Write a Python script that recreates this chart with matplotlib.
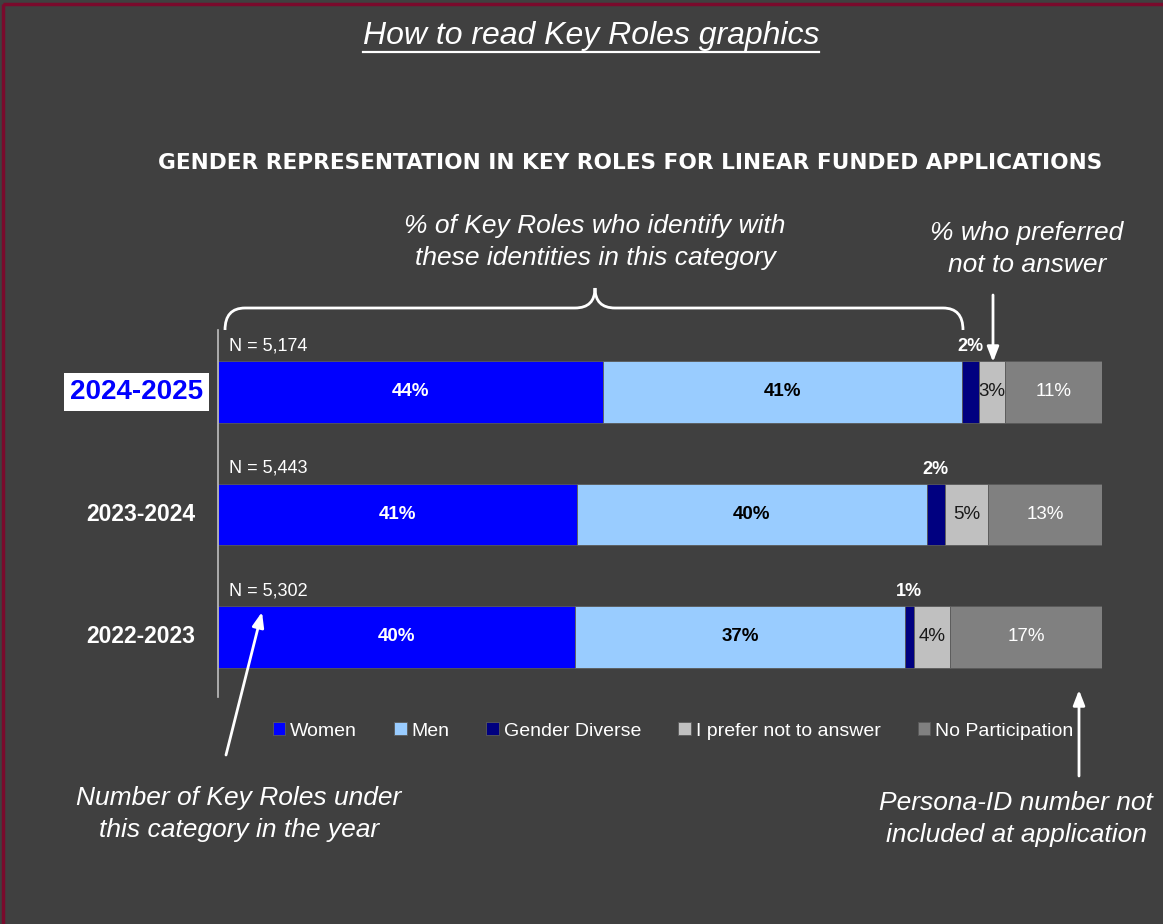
"""
key_roles_gender.py
"""

import numpy as np

import matplotlib.pyplot as plt
from matplotlib.patches import Rectangle, PathPatch
from matplotlib.path import Path
from matplotlib.transforms import blended_transform_factory


# -------------------------
# Data
# -------------------------

years = ["2024-2025", "2023-2024", "2022-2023"]

n_labels = ["N = 5,174", "N = 5,443", "N = 5,302"]

categories = [
    "Women",
    "Men",
    "Gender Diverse",
    "I prefer not to answer",
    "No Participation"
]

women = [43.6, 40.6, 40.4]
men = [40.6, 39.6, 37.3]
gender_diverse = [1.9, 2.0, 1.0]
prefer_not = [2.9, 4.9, 4.1]
no_participation = [11.0, 12.9, 17.2]

shown_labels = [
    ["44%", "41%", "2%", "3%", "11%"],
    ["41%", "40%", "2%", "5%", "13%"],
    ["40%", "37%", "1%", "4%", "17%"],
]

colors = ["#0000FF", "#99CCFF", "#000080", "#C0C0C0", "#808080"]
label_colors = ["white", "black", "white", "#1a1a1a", "white"]
label_weights = ["bold", "bold", "bold", "normal", "normal"]

BG = "#404040"
W, H = 1163, 924

narrow = ["Liberation Sans Narrow", "Liberation Sans", "DejaVu Sans"]
arial = ["Liberation Sans", "DejaVu Sans"]

fig = plt.figure(figsize=(W / 100, H / 100), dpi=100, facecolor=BG)

# overlay in pixel coordinates for the explanatory annotations
over = fig.add_axes([0, 0, 1, 1])
over.set_xlim(0, W)
over.set_ylim(H, 0)
over.axis("off")
over.set_zorder(3)
over.patch.set_alpha(0)

# -------------------------
# Bar chart
# -------------------------

ax = fig.add_axes([218 / W, 1 - 697 / H, 884 / W, 367 / H])
ax.set_facecolor(BG)
ax.set_xlim(0, 100)
ax.set_ylim(2.49, -0.506)

series = [women, men, gender_diverse, prefer_not, no_participation]
y = np.arange(len(years))
left = np.zeros(len(years))
bars = []
for i, vals in enumerate(series):
    b = ax.barh(y, vals, left=left, height=0.5, color=colors[i],
                edgecolor="#5a5a5a", linewidth=0.6, label=categories[i])
    bars.append(b)
    for j, v in enumerate(vals):
        txt = shown_labels[j][i]
        if i == 2:
            # gender diverse label sits above the thin segment
            ax.text(left[j] + v / 2, j - 0.3, txt, ha="center", va="bottom",
                    color="white", fontsize=13, fontweight="bold",
                    family=arial)
        else:
            ax.text(left[j] + v / 2, j, txt, ha="center", va="center",
                    color=label_colors[i], fontsize=13.5,
                    fontweight=label_weights[i], family=arial)
    left = left + np.array(vals)

for j, n in enumerate(n_labels):
    ax.text(1.3, j - 0.31, n, ha="left", va="bottom", color="white",
            fontsize=13, family=narrow)

for s in ["top", "right", "bottom"]:
    ax.spines[s].set_visible(False)
ax.spines["left"].set_color("#bfbfbf")
ax.spines["left"].set_linewidth(1.2)
ax.set_xticks([])
ax.set_yticks([])

# year labels
trans = blended_transform_factory(ax.transAxes, ax.transData)
ax.text(-0.017, 0, years[0], transform=trans, ha="right", va="center",
        color="#0000FF", fontsize=20, fontweight="bold", family=arial,
        bbox=dict(facecolor="white", edgecolor="none", pad=4))
for j in range(1, len(years)):
    ax.text(-0.026, j, years[j], transform=trans, ha="right", va="center",
            color="white", fontsize=16.5, fontweight="bold", family=arial)

fig.legend(handles=bars, labels=categories, loc="center",
           bbox_to_anchor=(673 / W, 1 - 731 / H), ncol=5, frameon=False,
           handlelength=0.65, handleheight=0.65, handletextpad=0.25,
           columnspacing=1.9, labelcolor="white",
           prop={"family": narrow, "size": 14})

# -------------------------
# Titles
# -------------------------

head = over.text(591, 36, "How to read Key Roles graphics", ha="center",
                 va="center", color="white", fontsize=23, style="italic",
                 family=arial)

over.text(630, 163, "GENDER REPRESENTATION IN KEY ROLES FOR LINEAR FUNDED APPLICATIONS",
          ha="center", va="center", color="white", fontsize=15.6,
          fontweight="bold", family=["DejaVu Sans"])

# -------------------------
# Annotations
# -------------------------

ital = dict(color="white", fontsize=19, style="italic", family=arial,
            ha="center", va="center", linespacing=1.42)

over.text(595, 242, "% of Key Roles who identify with\nthese identities in this category", **ital)
over.text(1027, 249, "% who preferred\nnot to answer", **ital)
over.text(239, 814, "Number of Key Roles under\nthis category in the year", **ital)
over.text(1016, 819, "Persona-ID number not\nincluded at application", **ital)

# curly brace over the identity segments
brace = Path(
    [(225, 330), (225, 308), (245, 308), (575, 308), (595, 308), (595, 288),
     (595, 308), (615, 308), (943, 308), (963, 308), (963, 330)],
    [Path.MOVETO, Path.CURVE3, Path.CURVE3, Path.LINETO, Path.CURVE3,
     Path.CURVE3, Path.CURVE3, Path.CURVE3, Path.LINETO, Path.CURVE3,
     Path.CURVE3]
)
over.add_patch(PathPatch(brace, facecolor="none", edgecolor="white",
                         linewidth=2))

arrow = dict(arrowstyle="-|>,head_length=0.9,head_width=0.35", color="white",
             linewidth=2, shrinkA=0, shrinkB=0)
over.annotate("", xy=(993, 362), xytext=(993, 295), arrowprops=arrow)
over.annotate("", xy=(262, 612), xytext=(226, 755), arrowprops=arrow)
over.annotate("", xy=(1079, 690), xytext=(1079, 776), arrowprops=arrow)

# maroon frame
over.add_patch(Rectangle((3, 4), W + 20, H + 20, facecolor="none",
                         edgecolor="#7a0a2c", linewidth=2.5, clip_on=False))

# underline the heading
fig.canvas.draw()
bb = head.get_window_extent()
uy = H - bb.y0 + 1
over.plot([bb.x0, bb.x1], [uy, uy], color="white", linewidth=1.6)

fig.savefig("out.png", dpi=100, facecolor=BG)
plt.close(fig)
